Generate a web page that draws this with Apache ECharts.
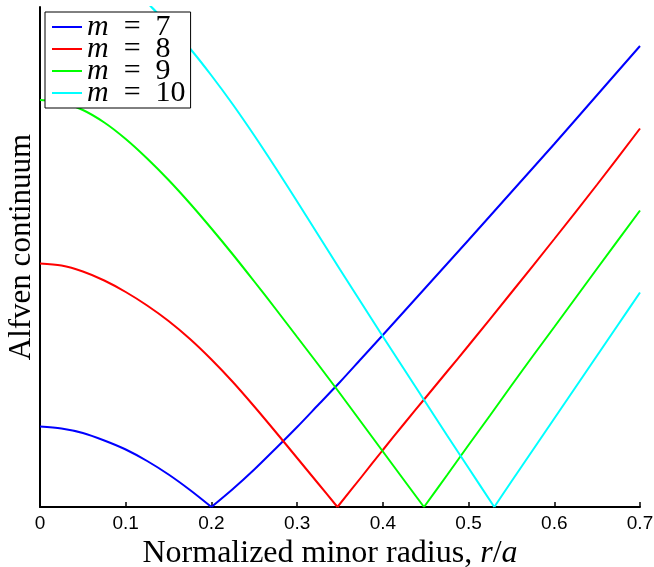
<!DOCTYPE html>
<html>
<head>
<meta charset="utf-8">
<script src="https://cdn.jsdelivr.net/npm/echarts@6/dist/echarts.min.js"></script>
<style>
  html, body { margin: 0; padding: 0; background: #fff; }
  #app { width: 654px; height: 567px; }
</style>
</head>
<body>
<div id="app"></div>
<script>
// mode numbers shown in the legend
var modes = [7, 8, 9, 10];
var colors = ['#0000ff', '#ff0000', '#00ff00', '#00ffff'];
var xTicks = [0, 0.1, 0.2, 0.3, 0.4, 0.5, 0.6, 0.7];

// [r/a, continuum] pairs
var m7 = [
    [0, 0.161], [0.025, 0.157], [0.05, 0.148], [0.075, 0.133], [0.1, 0.115],
    [0.125, 0.092], [0.15, 0.065], [0.175, 0.034], [0.2, 0],
    [0.225, 0.036], [0.25, 0.075], [0.275, 0.117], [0.3, 0.160], [0.325, 0.205],
    [0.35, 0.250], [0.375, 0.297], [0.4, 0.344], [0.45, 0.439], [0.5, 0.534],
    [0.55, 0.630], [0.6, 0.726], [0.65, 0.824], [0.7, 0.922]
];
var m8 = [
    [0, 0.487], [0.025, 0.483], [0.05, 0.471], [0.075, 0.453], [0.1, 0.430],
    [0.125, 0.403], [0.15, 0.372], [0.175, 0.336], [0.2, 0.295], [0.225, 0.250],
    [0.25, 0.201], [0.275, 0.150], [0.3, 0.098], [0.325, 0.046], [0.347, 0],
    [0.375, 0.060], [0.4, 0.114], [0.425, 0.167], [0.45, 0.219], [0.475, 0.271],
    [0.5, 0.323], [0.55, 0.429], [0.6, 0.536], [0.65, 0.645], [0.7, 0.757]
];
var m9 = [
    [0, 0.814], [0.025, 0.809], [0.05, 0.794], [0.075, 0.769], [0.1, 0.736],
    [0.125, 0.697], [0.15, 0.654], [0.175, 0.607], [0.2, 0.557], [0.225, 0.505],
    [0.25, 0.451], [0.275, 0.396], [0.3, 0.340], [0.325, 0.284], [0.35, 0.227],
    [0.375, 0.169], [0.4, 0.111], [0.425, 0.053], [0.448, 0],
    [0.475, 0.064], [0.5, 0.124], [0.525, 0.183], [0.55, 0.243], [0.575, 0.302],
    [0.6, 0.360], [0.65, 0.477], [0.7, 0.593]
];
var m10 = [
    [0, 1.140], [0.025, 1.134], [0.05, 1.117], [0.075, 1.090], [0.1, 1.055],
    [0.13, 1.000], [0.15, 0.965], [0.175, 0.917], [0.2, 0.863], [0.225, 0.805],
    [0.25, 0.743], [0.275, 0.678], [0.3, 0.611], [0.325, 0.543], [0.35, 0.475],
    [0.375, 0.408], [0.4, 0.341], [0.425, 0.275], [0.45, 0.209], [0.475, 0.143],
    [0.5, 0.078], [0.53, 0],
    [0.55, 0.051], [0.575, 0.114], [0.6, 0.177], [0.625, 0.240], [0.65, 0.303],
    [0.675, 0.366], [0.7, 0.429]
];
var curves = [m7, m8, m9, m10];

var serif = '"Liberation Serif", "DejaVu Serif", serif';
var sans = '"Liberation Sans", Arial, sans-serif';

// each curve is drawn as two smooth branches that meet at the resonant surface
var series = [];
curves.forEach(function (d, i) {
    var k = 0;
    while (d[k][1] !== 0) k++;
    [d.slice(0, k + 1), d.slice(k)].forEach(function (part) {
        series.push({
            name: 'm = ' + modes[i],
            type: 'line',
            data: part,
            symbol: 'none',
            smooth: 0.3,
            clip: true,
            lineStyle: { color: colors[i], width: 2 },
            itemStyle: { color: colors[i] }
        });
    });
});

var chart = echarts.init(document.getElementById('app'), null, { renderer: 'canvas' });
chart.setOption({
    animation: false,
    backgroundColor: '#fff',
    grid: { left: 40, right: 14, top: 7, bottom: 60, containLabel: false, outerBoundsMode: 'none' },
    legend: {
        orient: 'vertical',
        left: 45,
        top: 12,
        itemWidth: 30,
        itemHeight: 2,
        itemGap: -8,
        padding: [0, 5, 0, 6],
        borderColor: '#000',
        borderWidth: 1,
        backgroundColor: '#fff',
        data: modes.map(function (m) { return 'm = ' + m; }),
        formatter: function (name) {
            return '{i|m}{n|  =  ' + name.split('= ')[1] + '}';
        },
        textStyle: {
            fontFamily: serif,
            fontSize: 30,
            lineHeight: 22,
            color: '#000',
            rich: {
                i: { fontFamily: serif, fontStyle: 'italic', fontSize: 30, lineHeight: 22 },
                n: { fontFamily: serif, fontSize: 30, lineHeight: 22 }
            }
        }
    },
    xAxis: {
        type: 'value',
        min: 0,
        max: 0.7,
        interval: 0.1,
        name: '{n|Normalized minor radius, }{i|r}{n|/}{i|a}',
        nameLocation: 'middle',
        nameGap: 27,
        nameTextStyle: {
            padding: [0, 20, 0, 0],
            rich: {
                n: { fontFamily: serif, fontSize: 32, color: '#000' },
                i: { fontFamily: serif, fontSize: 32, fontStyle: 'italic', color: '#000' }
            }
        },
        axisLine: { show: true, lineStyle: { color: '#000', width: 2 } },
        axisTick: { show: true, inside: true, length: 5, lineStyle: { color: '#000', width: 1.5 } },
        axisLabel: {
            color: '#000',
            fontFamily: sans,
            fontSize: 19,
            margin: 7,
            formatter: function (v) {
                var r = Math.round(v * 10) / 10;
                return xTicks.indexOf(r) >= 0 ? String(r) : '';
            }
        },
        splitLine: { show: false }
    },
    yAxis: {
        type: 'value',
        min: 0,
        max: 1,
        name: 'Alfven continuum',
        nameLocation: 'middle',
        nameGap: 3,
        nameTextStyle: { fontFamily: serif, fontSize: 31, color: '#000', padding: [0, 0, 0, 20] },
        axisLine: { show: true, lineStyle: { color: '#000', width: 2 } },
        axisTick: { show: false },
        axisLabel: { show: false },
        splitLine: { show: false }
    },
    series: series
});
</script>
</body>
</html>
